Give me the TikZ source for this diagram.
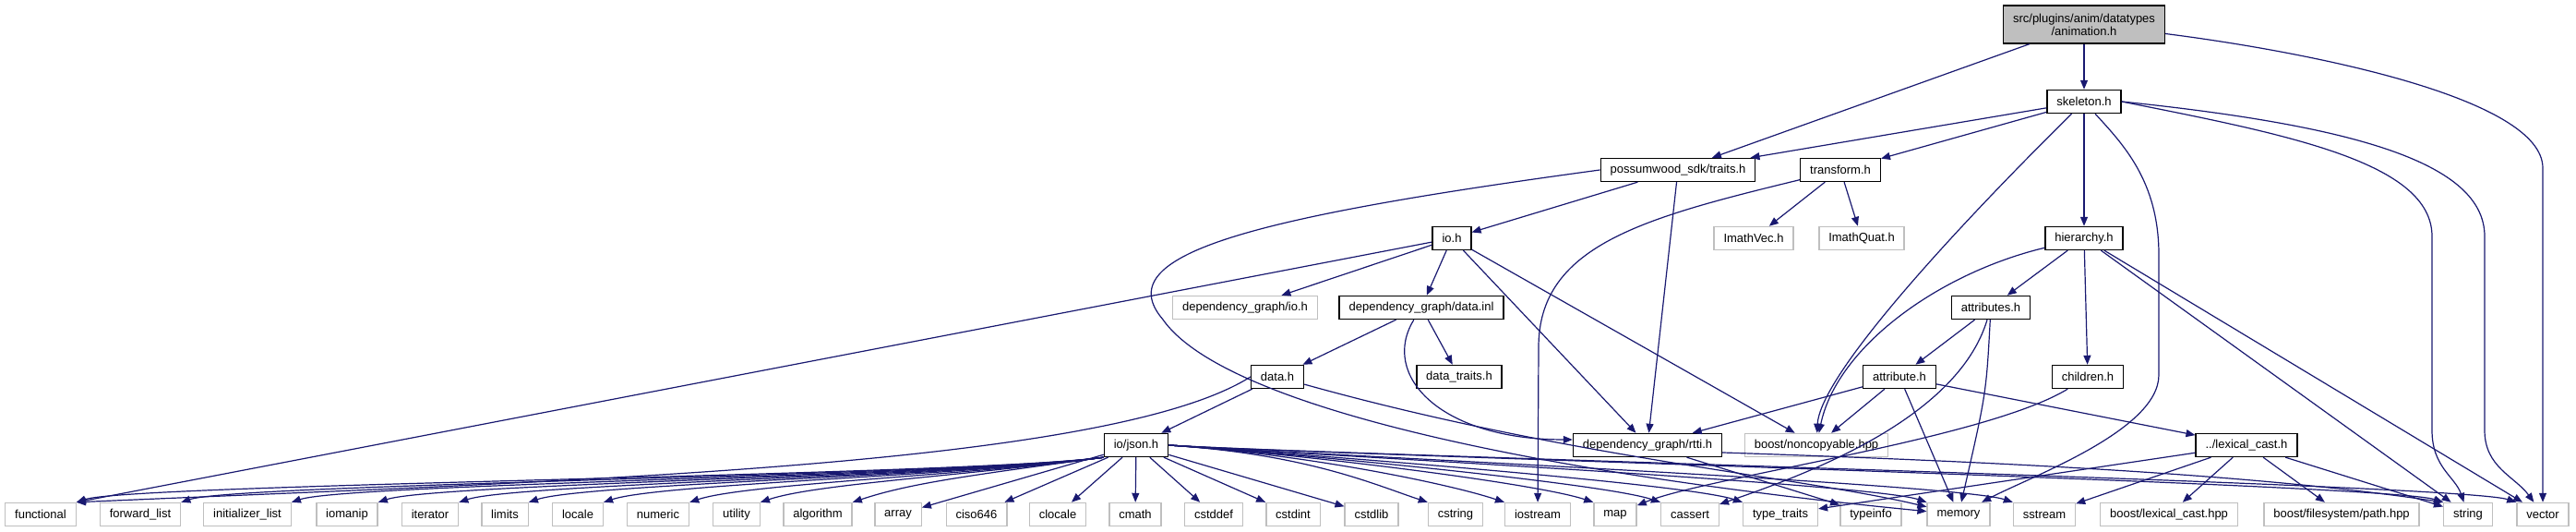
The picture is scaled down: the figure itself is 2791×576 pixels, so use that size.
\documentclass[tikz,border=0pt]{standalone}
\usepackage{fontspec}
\setmainfont{Liberation Sans}
\usetikzlibrary{arrows.meta}
\definecolor{edgeblue}{HTML}{191970}
\definecolor{extgray}{HTML}{BFBFBF}

\begin{document}
\begin{tikzpicture}[x=0.5pt,y=0.5pt,>={Triangle[length=5pt,width=4pt]},
    hdr/.style={draw=black,line width=0.7pt,fill=white,inner xsep=5.2pt,inner ysep=0pt,
      minimum height=12.5pt,font=\fontsize{6.5}{7}\selectfont},
    ext/.style={hdr,draw=extgray},
    dep/.style={->,draw=edgeblue,line width=0.6pt}]
    \useasboundingbox (0,0) rectangle (2791,576);

    % headers of the graph
    \node[hdr,fill=extgray,align=center,minimum height=20.5pt] (anim) at (2258,549.5)
      {src/plugins/anim/datatypes\\/animation.h};
    \node[hdr] (skeleton) at (2258,466) {skeleton.h};
    \node[hdr] (traits) at (1818,392) {possumwood\_sdk/traits.h};
    \node[hdr] (transform) at (1994,392) {transform.h};
    \node[hdr] (io) at (1573,318) {io.h};
    \node[ext] (imathvec) at (1900,318) {ImathVec.h};
    \node[ext] (imathquat) at (2017,318) {ImathQuat.h};
    \node[hdr] (hierarchy) at (2258,318) {hierarchy.h};
    \node[ext] (dgio) at (1349,243) {dependency\_graph/io.h};
    \node[hdr] (datainl) at (1540,243) {dependency\_graph/data.inl};
    \node[hdr] (attributes) at (2157,243) {attributes.h};
    \node[hdr] (datah) at (1384,168) {data.h};
    \node[hdr] (datatraits) at (1581,168) {data\_traits.h};
    \node[hdr] (attribute) at (2058,168) {attribute.h};
    \node[hdr] (children) at (2262,168) {children.h};
    \node[hdr] (json) at (1231,94) {io/json.h};
    \node[hdr] (rtti) at (1785,94) {dependency\_graph/rtti.h};
    \node[ext] (noncopyable) at (1968,94) {boost/noncopyable.hpp};
    \node[hdr] (lexcast) at (2434,94) {../lexical\_cast.h};

    % system headers
    \foreach \n/\t/\x in {functional/functional/44,fwdlist/forward\_list/152,
        initlist/initializer\_list/268,iomanip/iomanip/376,iterator/iterator/466,
        limits/limits/547,locale/locale/626,numeric/numeric/713,utility/utility/798,
        algorithm/algorithm/886,array/array/973,ciso/ciso646/1058,clocale/clocale/1146,
        cmath/cmath/1230,cstddef/cstddef/1315,cstdint/cstdint/1401,cstdlib/cstdlib/1486,
        cstring/cstring/1577,iostream/iostream/1666,map/map/1750,cassert/cassert/1831,
        typetraits/type\_traits/1929,typeinfo/typeinfo/2027,memory/memory/2122,
        sstream/sstream/2215,blexcast/{boost/lexical\_cast.hpp}/2350,
        bpath/{boost/filesystem/path.hpp}/2537,string/string/2674,vector/vector/2755}
      \node[ext] (\n) at (\x,19) {\t};

    % animation.h
    \draw[dep] (anim) -- (skeleton);
    \draw[dep] (anim) -- (traits);
    \draw[dep] ([yshift=-5pt]anim.east) .. controls (2500,520) and (2755,470) .. (2755,394) -- (vector);

    % skeleton.h
    \draw[dep] (skeleton) -- (traits);
    \draw[dep] (skeleton) -- (transform);
    \draw[dep] (skeleton) -- (hierarchy);
    \draw[dep] (skeleton) .. controls (2120,330) and (1972,170) .. (noncopyable);
    \draw[dep] (skeleton) .. controls (2300,420) and (2339,380) .. (2339,300) -- (2339,170)
      .. controls (2339,110) and (2200,60) .. (memory);
    \draw[dep] (skeleton.east) .. controls (2480,430) and (2635,400) .. (2635,320) -- (2635,110)
      .. controls (2635,70) and (2660,60) .. (string);
    \draw[dep] (skeleton.east) .. controls (2550,440) and (2692,400) .. (2692,320) -- (2692,110)
      .. controls (2692,70) and (2725,60) .. (vector);

    % possumwood_sdk/traits.h
    \draw[dep] (traits) -- (io);
    \draw[dep] (traits) -- (rtti);
    \draw[dep] (traits.west) .. controls (1350,340) and (1200,300) .. (1260,230)
      .. controls (1330,130) and (1700,60) .. (memory);

    % transform.h
    \draw[dep] (transform) -- (imathvec);
    \draw[dep] (transform) -- (imathquat);
    \draw[dep] (transform) .. controls (1780,340) and (1667,310) .. (1667,200) -- (iostream);

    % io.h
    \draw[dep] (io) -- (functional.north east);
    \draw[dep] (io) -- (dgio);
    \draw[dep] (io) -- (datainl);
    \draw[dep] (io) -- (rtti);
    \draw[dep] (io) -- (noncopyable);

    % dependency_graph/data.inl
    \draw[dep] (datainl) -- (datah);
    \draw[dep] (datainl) -- (datatraits);
    \draw[dep] (datainl) .. controls (1495,170) and (1560,100) .. ([yshift=3pt]rtti.west);

    % data.h
    \draw[dep] (datah) -- (json);
    \draw[dep] (datah.west) .. controls (1200,70) and (600,55) .. (functional.north east);
    \draw[dep] (datah) .. controls (1700,80) and (1950,60) .. (memory);

    % hierarchy.h
    \draw[dep] (hierarchy) -- (attributes);
    \draw[dep] (hierarchy) -- (children);
    \draw[dep] (hierarchy) .. controls (2100,280) and (1990,200) .. (noncopyable);
    \draw[dep] (hierarchy) -- (string);
    \draw[dep] (hierarchy) -- (vector);

    % attributes.h
    \draw[dep] (attributes) -- (attribute);
    \draw[dep] (attributes) .. controls (2152,150) .. (memory);
    \draw[dep] (attributes) .. controls (2120,120) and (1950,60) .. (cassert);

    % attribute.h
    \draw[dep] (attribute) -- (rtti);
    \draw[dep] (attribute) -- (noncopyable);
    \draw[dep] (attribute) -- (memory);
    \draw[dep] (attribute) -- (lexcast);

    % children.h
    \draw[dep] (children) .. controls (2150,100) and (1850,60) .. (map);

    % dependency_graph/rtti.h
    \draw[dep] (rtti) -- (typeinfo);
    \draw[dep] ([yshift=-4pt]rtti.east) .. controls +(300,-10) and +(-200,30) .. (string.north west);

    % ../lexical_cast.h
    \draw[dep] (lexcast) -- (typetraits);
    \draw[dep] (lexcast) -- (sstream);
    \draw[dep] (lexcast) -- (blexcast);
    \draw[dep] (lexcast) -- (bpath);
    \draw[dep] (lexcast) -- (string);

    % io/json.h
    \foreach \t in {functional,fwdlist,initlist,iomanip,iterator,limits,locale,numeric,utility,algorithm}
      \draw[dep] (json.south west) .. controls +(-150,-20) and +(60,20) .. (\t.north east);
    \foreach \t in {array,ciso,clocale,cmath,cstddef,cstdint,cstdlib}
      \draw[dep] (json) -- (\t);
    \foreach \t in {cstring,iostream,map,cassert,typetraits,memory,sstream,string,vector}
      \draw[dep] (json.east) .. controls +(150,-10) and +(-60,20) .. (\t.north west);
  \end{tikzpicture}
\end{document}
